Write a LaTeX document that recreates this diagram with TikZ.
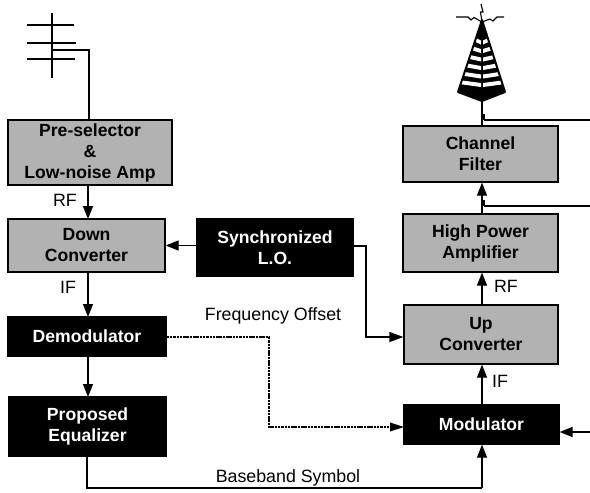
\documentclass[tikz,border=0pt]{standalone}
\usepackage{fontspec}
\setmainfont{Liberation Sans}
\usetikzlibrary{arrows.meta}
\tikzset{
 x=1pt,y=-1pt,
 base/.style={draw=black,line width=1.2pt,inner sep=0pt,align=center,font=\fontsize{17.6}{21}\selectfont\bfseries},
 graybox/.style={base,fill=black!30,text=black},
 blackbox/.style={base,fill=black,text=white},
 wire/.style={line width=1.2pt,draw=black},
 arr/.style={wire,-{Triangle[length=13pt,width=10pt]}},
 lab/.style={inner sep=0pt,font=\fontsize{17.8}{20}\selectfont},
 dot/.style={line width=1.2pt,dash pattern=on 2.5pt off 0.8pt}
}
\begin{document}
\begin{tikzpicture}
\useasboundingbox (0,0) rectangle (590,493);
\fill[white] (0,0) rectangle (590,493);
% boxes
\node[graybox,minimum width=164pt,minimum height=65pt] (pre) at (90,152.5) {Pre-selector\\\&\\Low-noise Amp};
\node[graybox,minimum width=157pt,minimum height=53pt] (down) at (86.5,245.5) {Down\\Converter};
\node[blackbox,minimum width=158pt,minimum height=39pt] (demod) at (87,336.5) {Demodulator};
\node[blackbox,minimum width=157pt,minimum height=59pt] (eq) at (87.5,426.5) {Proposed\\Equalizer};
\node[blackbox,minimum width=156pt,minimum height=57pt] (lo) at (275,247.5) {Synchronized\\L.O.};
\node[graybox,minimum width=155pt,minimum height=56pt] (chan) at (480.5,154) {Channel\\Filter};
\node[graybox,minimum width=155pt,minimum height=58pt] (hpa) at (480.5,243) {High Power\\Amplifier};
\node[graybox,minimum width=154pt,minimum height=59pt] (up) at (481,334.5) {Up\\Converter};
\node[blackbox,minimum width=155pt,minimum height=39pt] (mod) at (481.5,424.5) {Modulator};
% coordinates
\coordinate (feed) at (52,50);
\coordinate (feedc) at (89,50);
\coordinate (pretop) at (89,120);
\coordinate (t0) at (482,100);
\coordinate (b1) at (87,488);
\coordinate (b2) at (482,488);
\coordinate (lo1) at (366,246);
\coordinate (lo2) at (366,337);
\coordinate (d1) at (269,337);
\coordinate (d2) at (269,427);
\coordinate (mr) at (590,432);
\coordinate (r1) at (590,120);
\coordinate (r1a) at (484,120);
\coordinate (r2) at (590,206);
\coordinate (r2a) at (484,206);
\coordinate (p1) at (88,185);
\coordinate (p2) at (88,219);
\coordinate (p3) at (88,272);
\coordinate (p4) at (88,317);
\coordinate (p5) at (88,356);
\coordinate (p6) at (88,397);
% receive antenna
\draw[wire] (52,13) -- (52,78);
\draw[wire] (27,25) -- (74,25);
\draw[wire] (27,43) -- (76,43);
\draw[wire] (27,59) -- (75,59);
\draw[wire] (feed) -- (feedc) -- (pretop);
% tower
\begin{scope}
\clip (482,20) -- (505,92) -- (482,101) -- (458,92) -- cycle;
\fill (458,20) rectangle (505,101);
\foreach \y/\d in {38/6,46.5/9,55/12,63.5/15,72/17.5,80.5/20}{
 \fill[white] (482-\d,\y) -- (482-1,\y+2.5) -- (482-1,\y+6.5) -- (482-\d-1,\y+3.8) -- cycle;
 \fill[white] (482+\d,\y) -- (482+1,\y+2.5) -- (482+1,\y+6.5) -- (482+\d+1,\y+3.8) -- cycle;
}
\end{scope}
\draw[line width=2pt,line join=round] (482,20) -- (505,92) -- (482,101) -- (458,92) -- cycle;
\draw[line width=1.1pt] (481,4) -- (483,12) -- (480.5,12) -- (482,22);
\draw[line width=1.1pt] (456,17) -- (468,17) -- (471,20) -- (474,17.5) -- (482,22);
\draw[line width=1.1pt] (482,22) -- (490,19) -- (493,21) -- (497,17) -- (504,17);
% connectors
\draw[arr] (p1) -- (p2);
\draw[arr] (p3) -- (p4);
\draw[arr] (p5) -- (p6);
\draw[arr] (lo.west |- down.east) -- (down.east);
\draw[wire,-{Triangle[length=14pt,width=10pt]}] (lo.east |- lo1) -- (lo1) -- (lo2) -- (lo2 -| up.west);
\draw[dot] (demod.east |- d1) -- (d1) -- (d2) -- (391,427);
\fill (404,427) -- (390,422.5) -- (390,431.5) -- cycle;
\draw[wire] (eq.south -| b1) -- (b1) -- (b2);
\draw[arr] (b2) -- (b2 |- mod.south);
\draw[arr] (mod.north -| b2) -- (up.south -| b2);
\draw[arr] (up.north -| b2) -- (hpa.south -| b2);
\draw[arr] (hpa.north -| b2) -- (chan.south -| b2);
\draw[wire] (chan.north -| t0) -- (t0);
\draw[arr] (mr) -- (mr -| mod.east);
\draw[wire] (r1a) -- (r1);
\draw[wire] (r1a) -- ++(0,-6);
\draw[wire] (r2a) -- (r2);
\draw[wire] (r2a) -- ++(0,-6);
% labels
\node[lab] (lrf) at (65,200) {RF};
\node[lab] (lif) at (68,287) {IF};
\node[lab] (lfo) at (273,316) {Frequency Offset};
\node[lab] (lbb) at (288,478) {Baseband Symbol};
\node[lab] (lrf2) at (506,286) {RF};
\node[lab] (lif2) at (500,381) {IF};
\end{tikzpicture}
\end{document}
